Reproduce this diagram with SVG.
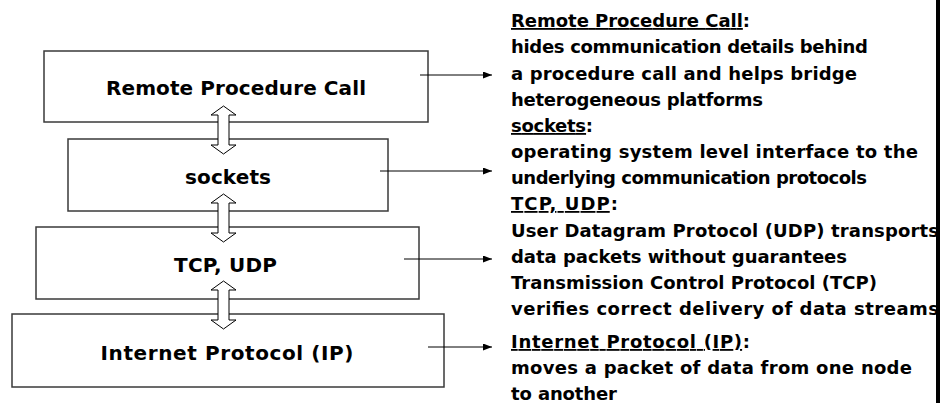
<svg xmlns="http://www.w3.org/2000/svg" width="940" height="403" viewBox="0 0 940 403">
  <style>
    .box { fill: #ffffff; stroke: #3a3a3a; stroke-width: 1.5; }
    .label { font-family: "DejaVu Sans", "Liberation Sans", sans-serif; font-weight: bold; font-size: 20px; fill: #000000; text-anchor: middle; }
    .desc { font-family: "DejaVu Sans", "Liberation Sans", sans-serif; font-weight: bold; font-size: 18px; fill: #000000; }
    .u { text-decoration: underline; }
    .link { stroke: #000000; stroke-width: 1; fill: none; }
    .dbl { fill: #ffffff; stroke: #000000; stroke-width: 1; }
  </style>
  <defs>
    <marker id="ah" markerUnits="userSpaceOnUse" markerWidth="10" markerHeight="8" refX="9" refY="3.5" orient="auto">
      <path d="M0,0 L9,3.5 L0,7 z" fill="#000000"/>
    </marker>
    <path id="dblarrow" d="M0,0 L12.5,9 L5.5,9 L5.5,39 L12.5,39 L0,48 L-12.5,39 L-5.5,39 L-5.5,9 L-12.5,9 Z"/>
  </defs>
  <rect width="940" height="403" fill="#ffffff"/>

  <g id="node-rpc">
    <rect class="box" x="44" y="51" width="384" height="71"/>
    <text class="label" x="236" y="95" textLength="260">Remote Procedure Call</text>
  </g>
  <g id="node-sockets">
    <rect class="box" x="68" y="139" width="320" height="72"/>
    <text class="label" x="228" y="184" textLength="86">sockets</text>
  </g>
  <g id="node-tcpudp">
    <rect class="box" x="36" y="227" width="383" height="72"/>
    <text class="label" x="225.5" y="272" textLength="103">TCP, UDP</text>
  </g>
  <g id="node-ip">
    <rect class="box" x="12" y="314" width="432" height="73"/>
    <text class="label" x="227" y="360" textLength="253">Internet Protocol (IP)</text>
  </g>

  <g id="connectors">
    <use href="#dblarrow" class="dbl" x="223.5" y="106"/>
    <use href="#dblarrow" class="dbl" x="223.5" y="194"/>
    <use href="#dblarrow" class="dbl" x="223.5" y="281"/>
    <line class="link" x1="420" y1="75" x2="492" y2="75" marker-end="url(#ah)"/>
    <line class="link" x1="380" y1="171" x2="492" y2="171" marker-end="url(#ah)"/>
    <line class="link" x1="404" y1="259" x2="492" y2="259" marker-end="url(#ah)"/>
    <line class="link" x1="428" y1="347" x2="492" y2="347" marker-end="url(#ah)"/>
  </g>

  <g id="desc-rpc">
    <text class="desc" x="511" y="27" textLength="239"><tspan class="u">Remote Procedure Call</tspan>:</text>
    <text class="desc" x="511" y="53" textLength="357">hides communication details behind</text>
    <text class="desc" x="511" y="80" textLength="346">a procedure call and helps bridge</text>
    <text class="desc" x="511" y="106" textLength="252">heterogeneous platforms</text>
  </g>
  <g id="desc-sockets">
    <text class="desc" x="511" y="132" textLength="82"><tspan class="u">sockets</tspan>:</text>
    <text class="desc" x="511" y="158" textLength="407">operating system level interface to the</text>
    <text class="desc" x="511" y="184" textLength="356">underlying communication protocols</text>
  </g>
  <g id="desc-tcpudp">
    <text class="desc" x="511" y="210" textLength="107"><tspan class="u">TCP, UDP</tspan>:</text>
    <text class="desc" x="511" y="237" textLength="428">User Datagram Protocol (UDP) transports</text>
    <text class="desc" x="511" y="263" textLength="336">data packets without guarantees</text>
    <text class="desc" x="511" y="289" textLength="366">Transmission Control Protocol (TCP)</text>
    <text class="desc" x="511" y="315" textLength="428">verifies correct delivery of data streams</text>
  </g>
  <g id="desc-ip">
    <text class="desc" x="511" y="348" textLength="239"><tspan class="u">Internet Protocol (IP)</tspan>:</text>
    <text class="desc" x="511" y="374" textLength="401">moves a packet of data from one node</text>
    <text class="desc" x="511" y="400" textLength="106">to another</text>
  </g>

  <rect x="936" y="0" width="4" height="403" fill="#000000"/>
</svg>
